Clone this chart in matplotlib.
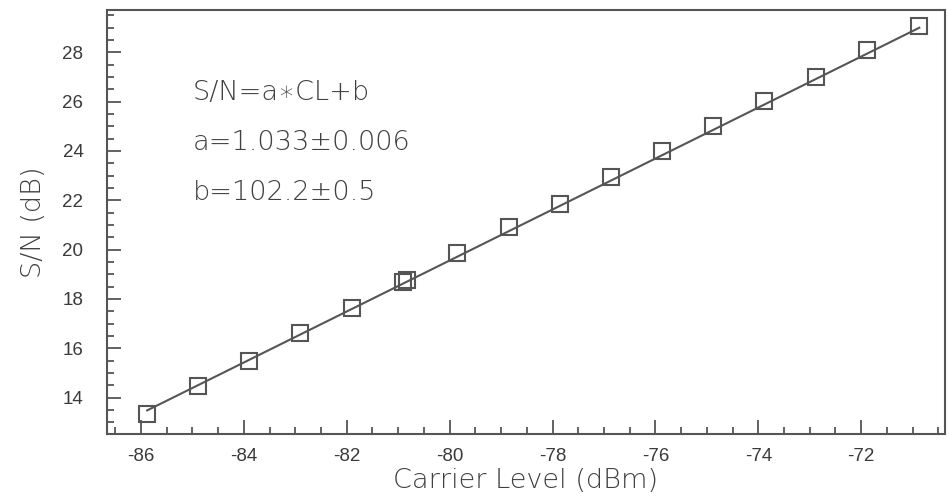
import matplotlib
matplotlib.use("Agg")
import matplotlib.pyplot as plt
from matplotlib.ticker import MultipleLocator
import numpy as np

# Data
carrier_level = [-85.88, -84.90, -83.90, -82.90, -81.90, -80.90, -80.83,
                 -79.86, -78.85, -77.86, -76.87, -75.87, -74.88, -73.88,
                 -72.88, -71.88, -70.87]
sn_db = [13.33, 14.49, 15.50, 16.63, 17.62, 18.70, 18.77,
         19.86, 20.92, 21.85, 22.96, 24.01, 25.01, 26.03,
         26.99, 28.09, 29.07]
fit_a = 1.033
fit_b = 102.2
fit_text = ["S/N=a\u2217CL+b", "a=1.033\u00b10.006", "b=102.2\u00b10.5"]
x_ticks = [-86, -84, -82, -80, -78, -76, -74, -72]
y_ticks = [14, 16, 18, 20, 22, 24, 26, 28]

grey = "#555555"
text_grey = "#404040"
plt.rcParams['font.family'] = ['DejaVu Sans']

fig = plt.figure(figsize=(9.49, 5.03), dpi=100)
ax = fig.add_axes([0.1128, 0.1372, 0.883, 0.8429])

xl = np.array([carrier_level[0], carrier_level[-1]])
ax.plot(xl, fit_a * xl + fit_b, color=grey, lw=1.5, zorder=2)
ax.plot(carrier_level, sn_db, linestyle='none', marker='s', markersize=11,
        markerfacecolor='none', markeredgecolor=grey, markeredgewidth=1.5, zorder=3)

ax.set_xlim(-86.66, -70.37)
ax.set_ylim(12.53, 29.71)
ax.set_xticks(x_ticks)
ax.set_xticklabels([str(v) for v in x_ticks], family='Liberation Sans')
ax.set_yticks(y_ticks)
ax.set_yticklabels([str(v) for v in y_ticks], family='Liberation Sans')
ax.xaxis.set_minor_locator(MultipleLocator(0.5))
ax.yaxis.set_minor_locator(MultipleLocator(0.5))
ax.tick_params(which='both', direction='in', top=False, right=False,
               color=grey, width=1.3, labelcolor="#3a3a3a", labelsize=13.5)
ax.tick_params(which='major', length=10)
ax.tick_params(which='minor', length=5)
ax.tick_params(axis='x', which='major', pad=10)
ax.tick_params(axis='y', which='major', pad=17)
for s in ax.spines.values():
    s.set_color(grey)
    s.set_linewidth(1.5)

ax.set_xlabel("Carrier Level (dBm)", fontsize=19.5, color=text_grey, labelpad=2,
              weight='light')
ax.set_ylabel("S/N (dB)", fontsize=19.5, color=text_grey, labelpad=12,
              weight='light')

ys = [92, 142, 192]
for t, yp in zip(fit_text, ys):
    fig.text(193 / 949, 1 - yp / 503, t, fontsize=19.5, color=text_grey,
             va='center', ha='left', weight='light')

fig.savefig("out.png", dpi=100)
